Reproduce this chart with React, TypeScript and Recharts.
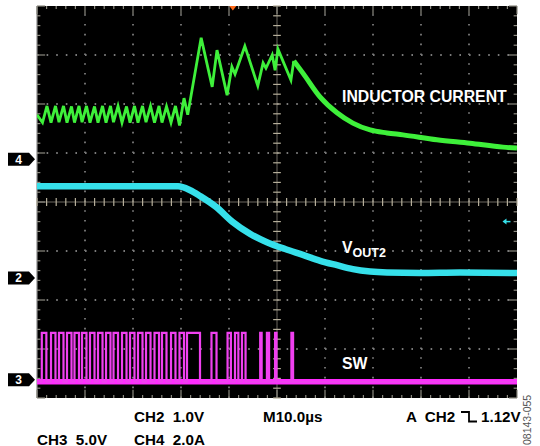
import { LineChart, Line, XAxis, YAxis, ReferenceLine, ReferenceDot } from "recharts";

// time axis: 10 div x 10 us, vertical: 8 div (values in divisions)
const T_END = 100;
const DIVS = 8;

// CH4 inductor current, [t us, div]
const inductorRipple: [number, number][] = [
  [0, 5.78],
  [1.15, 5.62], [2.08, 5.96], [2.92, 5.62], [3.85, 5.96], [4.58, 5.63], [5.52, 5.96],
  [6.25, 5.62], [7.19, 5.95], [7.81, 5.62], [8.75, 5.96], [9.38, 5.63], [10.31, 5.96],
  [11.04, 5.62], [11.98, 5.95], [12.71, 5.62], [13.65, 5.96], [14.38, 5.62], [15.31, 5.96],
  [15.94, 5.63], [16.88, 5.96], [17.71, 5.62], [18.65, 5.95], [19.38, 5.62], [20.31, 5.96],
  [21.04, 5.62], [21.98, 5.96], [22.71, 5.63], [23.65, 5.96], [24.48, 5.62], [25.42, 5.96],
  [26.04, 5.62], [26.98, 5.95], [27.92, 5.62], [28.85, 5.96], [29.69, 5.56], [30.63, 6.12],
  [31.4, 5.78], [34.2, 7.35], [36.5, 6.35], [37.5, 7.1], [39.6, 6.18], [40.6, 6.76],
  [41.25, 6.61], [43.3, 7.18], [46.0, 6.37], [47.1, 6.84], [47.7, 6.73], [49.0, 7.0],
  [49.6, 6.69], [50.2, 7.12], [52.9, 6.49], [53.5, 6.88],
];
const inductorDecay: [number, number][] = [
  [53.5, 6.88], [55.4, 6.63], [59.0, 6.14], [62.5, 5.82], [65.8, 5.61], [69.4, 5.47],
  [72.9, 5.41], [76.25, 5.37], [83.3, 5.27], [90.2, 5.2], [97.1, 5.12], [100, 5.1],
];

// CH2 VOUT2
const vout2: [number, number][] = [
  [0, 4.32], [29.4, 4.32], [31.9, 4.24], [34.0, 4.12], [37.3, 3.9], [40.8, 3.59],
  [44.4, 3.35], [47.9, 3.18], [51.7, 3.04], [55.4, 2.92], [59.0, 2.8], [62.5, 2.71],
  [65.8, 2.63], [69.4, 2.58], [72.9, 2.56], [79.8, 2.55], [88.1, 2.56], [100, 2.55],
];

// CH3 SW node: high intervals [start, end] in us
const swPulses: [number, number][] = [
  [1.0, 1.95], [2.92, 3.85], [4.58, 5.52], [6.25, 7.19], [7.81, 8.75], [9.38, 10.31],
  [11.04, 11.98], [12.71, 13.65], [14.38, 15.31], [15.94, 16.88], [17.71, 18.65],
  [19.38, 20.31], [21.04, 21.98], [22.71, 23.65], [24.48, 25.42], [26.04, 26.98],
  [27.92, 28.85], [29.69, 30.63], [31.25, 33.96], [36.35, 37.4], [39.7, 40.4],
  [41.25, 41.95], [42.7, 43.45], [46.5, 46.8], [47.9, 48.35], [49.6, 49.9], [53.0, 53.35],
];
const swLow = 0.33;
const swHigh = 1.33;

// channel ground markers (div)
const markerNames = ["4", "2", "3"];
const markerLevels = [4.87, 2.45, 0.37];

const triggerTime = 40.8;
const triggerLevel = 3.6;

const toRows = (pts: [number, number][]) => pts.map(([t, v]) => ({ t, v }));

const swRows = (() => {
  const rows = [{ t: 0, v: swLow }];
  swPulses.forEach(([a, b]) => {
    rows.push({ t: a, v: swHigh });
    rows.push({ t: b, v: swLow });
  });
  rows.push({ t: T_END, v: swLow });
  return rows;
})();
const swFloor = [{ t: 0, v: swLow }, { t: T_END, v: swLow }];

const minorX = Array.from({ length: 51 }, (_, i) => i * 2);
const minorY = Array.from({ length: 41 }, (_, i) => +(i * 0.2).toFixed(1));
const majorX = [10, 20, 30, 40, 60, 70, 80, 90];
const majorY = [1, 2, 3, 5, 6, 7];

const FONT = "'Liberation Sans', Arial, sans-serif";

const MarkerTick = (props: any) => {
  const { y, payload } = props;
  const idx = markerLevels.indexOf(payload.value);
  return (
    <g>
      <path d={`M8,${y - 6.5} H29 L35,${y} L29,${y + 6.5} H8 Z`} fill="#000" />
      <text x={18.5} y={y + 4.5} fill="#fff" fontSize={12} fontWeight="bold" textAnchor="middle" fontFamily={FONT}>
        {markerNames[idx]}
      </text>
    </g>
  );
};

const App = () => {
  const gridDot = "#7a7a7a";
  const tickCol = "#b5ae9a";
  return (
    <div style={{ position: "absolute", left: 0, top: 0, width: 540, height: 446, background: "#fff" }}>
      <div style={{ position: "absolute", left: 37, top: 6, width: 480, height: 392, background: "#000" }} />
      <div style={{ position: "absolute", left: 0, top: 0 }}>
        <LineChart width={540} height={446} margin={{ top: 6, right: 23, bottom: 48, left: 0 }}>
          <XAxis dataKey="t" type="number" domain={[0, T_END]} hide allowDataOverflow />
          <YAxis
            type="number"
            domain={[0, DIVS]}
            width={37}
            ticks={markerLevels}
            interval={0}
            axisLine={false}
            tickLine={false}
            tick={<MarkerTick />}
            allowDataOverflow
          />
          <ReferenceLine x={0} stroke="#8a8a8a" strokeWidth={1.2} />
          {majorY.map((v) => (
            <ReferenceLine key={`gy${v}`} y={v} stroke={gridDot} strokeWidth={1.8} strokeDasharray="1.6 8" />
          ))}
          {majorX.map((v) => (
            <ReferenceLine key={`gx${v}`} x={v} stroke={gridDot} strokeWidth={1.8} strokeDasharray="1.6 8.2" />
          ))}
          <ReferenceLine y={4} stroke="#6c6860" strokeWidth={1} />
          <ReferenceLine x={50} stroke="#6c6860" strokeWidth={1} />
          {minorX.map((v) => (
            <ReferenceLine key={`cx${v}`} segment={[{ x: v, y: 3.92 }, { x: v, y: 4.08 }]} stroke={tickCol} strokeWidth={1.2} />
          ))}
          {minorY.map((v) => (
            <ReferenceLine key={`cy${v}`} segment={[{ x: 49.2, y: v }, { x: 50.8, y: v }]} stroke={tickCol} strokeWidth={1.2} />
          ))}
          {minorX.map((v) => (
            <ReferenceLine key={`tx${v}`} segment={[{ x: v, y: 8 }, { x: v, y: v % 10 === 0 ? 7.83 : 7.94 }]} stroke="#8c8a80" strokeWidth={1.2} />
          ))}
          {minorX.map((v) => (
            <ReferenceLine key={`bx${v}`} segment={[{ x: v, y: 0 }, { x: v, y: v % 10 === 0 ? 0.17 : 0.06 }]} stroke="#8c8a80" strokeWidth={1.2} />
          ))}
          {minorY.map((v) => (
            <ReferenceLine key={`ly${v}`} segment={[{ x: 0, y: v }, { x: Number.isInteger(v) ? 1.7 : 0.7, y: v }]} stroke="#8c8a80" strokeWidth={1.2} />
          ))}
          {minorY.map((v) => (
            <ReferenceLine key={`ry${v}`} segment={[{ x: T_END, y: v }, { x: Number.isInteger(v) ? 98.3 : 99.3, y: v }]} stroke="#8c8a80" strokeWidth={1.2} />
          ))}

          <Line data={toRows(inductorRipple)} dataKey="v" type="linear" stroke="#3ef03a" strokeWidth={2.8} dot={false} isAnimationActive={false} />
          <Line data={toRows(inductorDecay)} dataKey="v" type="monotone" stroke="#3ef03a" strokeWidth={5} dot={false} isAnimationActive={false} />
          <Line data={toRows(vout2)} dataKey="v" type="monotone" stroke="#36e0ea" strokeWidth={6.5} dot={false} isAnimationActive={false} />
          <Line data={swFloor} dataKey="v" type="linear" stroke="#ff2cff" strokeWidth={5.5} dot={false} isAnimationActive={false} />
          <Line data={swRows} dataKey="v" type="stepAfter" stroke="#f040f0" strokeWidth={2.2} dot={false} isAnimationActive={false} />

          <ReferenceDot
            x={triggerTime}
            y={DIVS}
            r={4}
            ifOverflow="visible"
            shape={(p: any) => <path d={`M${p.cx - 3.5},${p.cy} H${p.cx + 3.5} L${p.cx},${p.cy + 4.5} Z`} fill="#ff6a1a" />}
          />
          <ReferenceDot
            x={97.6}
            y={triggerLevel}
            r={4}
            ifOverflow="visible"
            shape={(p: any) => (
              <g>
                <path d={`M${p.cx - 3},${p.cy} L${p.cx + 1},${p.cy - 3} L${p.cx + 1},${p.cy + 3} Z`} fill="#36e0ea" />
                <line x1={p.cx} y1={p.cy} x2={p.cx + 5} y2={p.cy} stroke="#36e0ea" strokeWidth={1.5} />
              </g>
            )}
          />
        </LineChart>
      </div>
      <svg width={540} height={446} style={{ position: "absolute", left: 0, top: 0, pointerEvents: "none" }}>
        <g fontFamily={FONT} fontWeight="bold" fill="#fff" fontSize={15.8}>
          <text x={342} y={101.5}>INDUCTOR CURRENT</text>
          <text x={342} y={253}>
            V<tspan fontSize={12.5} dy={4}>OUT2</tspan>
          </text>
          <text x={342} y={369}>SW</text>
        </g>
        <g fontFamily={FONT} fontWeight="bold" fill="#000" fontSize={15.2} style={{ whiteSpace: "pre" }}>
          <text x={134} y={422} xmlSpace="preserve">CH2  1.0V</text>
          <text x={263} y={422}>M10.0µs</text>
          <text x={406} y={422} xmlSpace="preserve">A  CH2</text>
          <path d="M461,412 H469 V421.5 H477" fill="none" stroke="#000" strokeWidth={1.8} />
          <text x={481} y={422}>1.12V</text>
          <text x={37} y={444.5} xmlSpace="preserve">CH3  5.0V</text>
          <text x={134} y={444.5} xmlSpace="preserve">CH4  2.0A</text>
        </g>
        <text x={531} y={445} transform="rotate(-90 531 445)" fontFamily={FONT} fontSize={10.5} fill="#555">
          08143-055
        </text>
      </svg>
    </div>
  );
};

export default App;
